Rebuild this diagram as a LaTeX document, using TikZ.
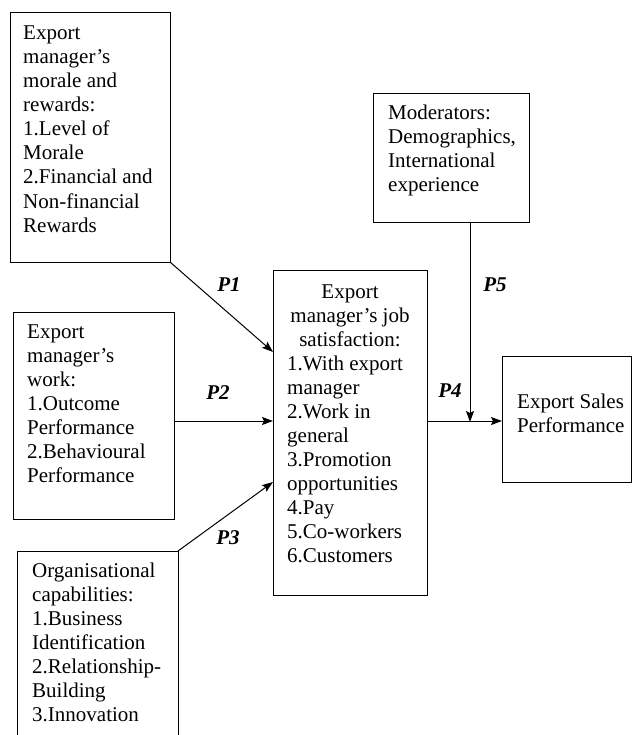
\documentclass[tikz,border=0pt]{standalone}
\usepackage{fontspec}
\setmainfont{Liberation Serif}
\usetikzlibrary{calc,arrows.meta}

\tikzset{
  box/.style={draw,line width=1pt,outer sep=0pt,inner sep=0pt,anchor=north west},
  boxtext/.style={anchor=base west,align=left,inner sep=0pt,
    font=\fontsize{21}{24}\selectfont},
  link/.style={line width=1pt,-{Stealth[length=11pt,width=8pt,inset=2pt]}},
  plabel/.style={inner sep=0pt,font=\fontsize{21}{24}\selectfont\bfseries\itshape}
}

\begin{document}
\begin{tikzpicture}[x=1pt,y=-1pt]
  \useasboundingbox (0,0) rectangle (632,735);
  % boxes
  \node[box,minimum width=160pt,minimum height=249pt] (morale) at (10,13) {};
  \node[box,minimum width=161pt,minimum height=207pt] (work) at (13,312) {};
  \node[box,minimum width=161pt,minimum height=210pt] (org) at (17,551) {};
  \node[box,minimum width=154pt,minimum height=325pt] (job) at (273,270) {};
  \node[box,minimum width=156pt,minimum height=128pt] (mod) at (373,94) {};
  \node[box,minimum width=129pt,minimum height=126pt] (sales) at (502,356) {};
  % texts (placed by the baseline of their last line)
  \node[boxtext] (moraletext) at ($(morale.north west)+(13,219)$)
    {Export\\manager’s\\morale and\\rewards:\\1.Level of\\Morale\\2.Financial and\\Non-financial\\Rewards};
  \node[boxtext] (worktext) at ($(work.north west)+(14,170)$)
    {Export\\manager’s\\work:\\1.Outcome\\Performance\\2.Behavioural\\Performance};
  \node[boxtext] (orgtext) at ($(org.north west)+(15,170)$)
    {Organisational\\capabilities:\\1.Business\\Identification\\2.Relationship-\\Building\\3.Innovation};
  \node[boxtext,anchor=base,align=center] (jobhead) at ($(job.north)+(0,76)$)
    {Export\\manager’s job\\satisfaction:};
  \node[boxtext] (joblist) at ($(job.north west)+(14,292)$)
    {1.With export\\manager\\2.Work in\\general\\3.Promotion\\opportunities\\4.Pay\\5.Co-workers\\6.Customers};
  \node[boxtext] (modtext) at ($(mod.north west)+(15,98)$)
    {Moderators:\\Demographics,\\International\\experience};
  \node[boxtext] (salestext) at ($(sales.north west)+(15,76)$)
    {Export Sales\\Performance};
  % links
  \coordinate (hit) at (470,422);
  \draw[link] (morale.south east) -- ($(job.north west)+(0,82)$);
  \draw[link] ($(work.north east)+(0,109)$) -- ($(job.north west)+(0,151)$);
  \draw[link] (org.north east) -- ($(job.north west)+(0,212)$);
  \draw[link] ($(job.north east)+(0,151)$) -- ($(sales.north west)+(0,65)$);
  \draw[link] (mod.south -| hit) -- (hit);
  % labels
  \node[plabel] (p1) at (229,285) {P1};
  \node[plabel] (p2) at (218,393) {P2};
  \node[plabel] (p3) at (228,538) {P3};
  \node[plabel] (p4) at (450,391) {P4};
  \node[plabel] (p5) at (495,285) {P5};
\end{tikzpicture}
\end{document}
